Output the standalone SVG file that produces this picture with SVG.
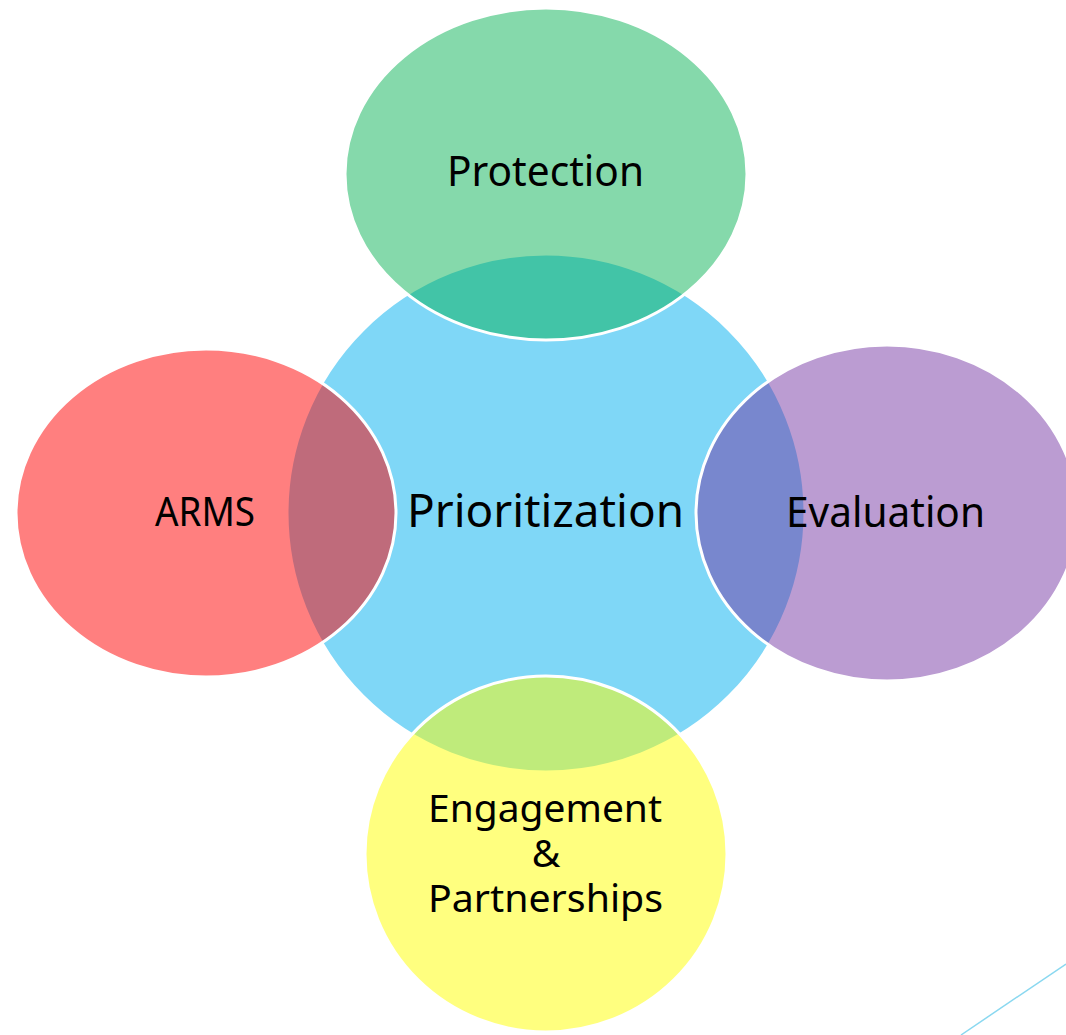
<svg xmlns="http://www.w3.org/2000/svg" width="1066" height="1035" viewBox="0 0 1066 1035">
  <style>
    .shape { stroke: #FFFFFF; stroke-width: 3; }
    .lbl { font-family: "Noto Sans", "DejaVu Sans", sans-serif; fill: #000000; text-anchor: middle; }
  </style>
  <rect x="0" y="0" width="1066" height="1035" fill="#FFFFFF"/>
  <g id="prioritization">
    <circle class="shape" cx="546" cy="513" r="259" fill="#7FD7F7"/>
  </g>
  <g id="protection">
    <ellipse class="shape" cx="546" cy="174" rx="201" ry="166" fill="#00B050" fill-opacity="0.48"/>
  </g>
  <g id="arms">
    <ellipse class="shape" cx="206" cy="513" rx="190" ry="164" fill="#FF0000" fill-opacity="0.5"/>
  </g>
  <g id="evaluation">
    <ellipse class="shape" cx="887" cy="513" rx="191" ry="168" fill="#7030A0" fill-opacity="0.48"/>
  </g>
  <g id="engagement">
    <ellipse class="shape" cx="546" cy="854" rx="181" ry="178" fill="#FFFF00" fill-opacity="0.5"/>
  </g>
  <g id="labels">
    <text class="lbl" x="545.5" y="527" font-size="45" textLength="277" lengthAdjust="spacingAndGlyphs">Prioritization</text>
    <text class="lbl" x="545.5" y="186" font-size="42" textLength="197" lengthAdjust="spacingAndGlyphs">Protection</text>
    <text class="lbl" x="205" y="526" font-size="40" textLength="100" lengthAdjust="spacingAndGlyphs">ARMS</text>
    <text class="lbl" x="885.5" y="527" font-size="42" textLength="199" lengthAdjust="spacingAndGlyphs">Evaluation</text>
    <text class="lbl" x="545" y="822" font-size="39" textLength="234" lengthAdjust="spacingAndGlyphs">Engagement</text>
    <text class="lbl" x="546" y="867" font-size="39">&amp;</text>
    <text class="lbl" x="545.5" y="912" font-size="39" textLength="235" lengthAdjust="spacingAndGlyphs">Partnerships</text>
  </g>
  <g id="connectors">
    <line x1="961" y1="1035" x2="1066" y2="964" stroke="#8AD8F0" stroke-width="1.5"/>
  </g>
</svg>
